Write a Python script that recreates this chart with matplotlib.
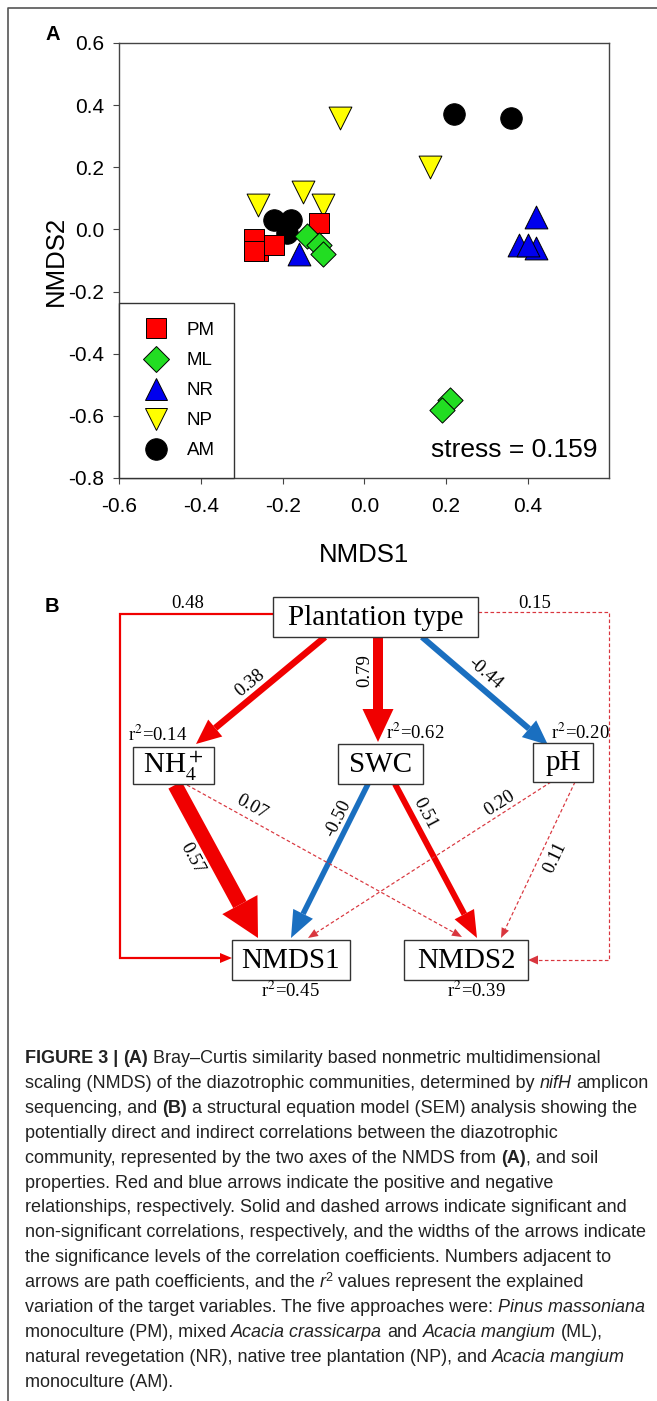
import matplotlib
matplotlib.use("Agg")
import matplotlib.pyplot as plt
import numpy as np
from matplotlib.lines import Line2D
from matplotlib.patches import Rectangle, Polygon

plt.rcParams['font.family'] = ['Liberation Sans', 'DejaVu Sans']
plt.rcParams['axes.unicode_minus'] = False
plt.rcParams['mathtext.fontset'] = 'stix'

# ---- (A) NMDS scores
groups = ['PM', 'ML', 'NR', 'NP', 'AM']
pm_x = [-0.27, -0.26, -0.22, -0.11, -0.27]
pm_y = [-0.03, -0.07, -0.05, 0.02, -0.07]
ml_x = [-0.14, -0.11, -0.10, 0.21, 0.19]
ml_y = [-0.02, -0.05, -0.08, -0.55, -0.58]
nr_x = [-0.16, 0.42, 0.38, 0.42, 0.40]
nr_y = [-0.08, 0.04, -0.05, -0.06, -0.05]
np_x = [-0.06, 0.16, -0.26, -0.15, -0.10]
np_y = [0.36, 0.20, 0.08, 0.12, 0.08]
am_x = [0.22, 0.36, -0.22, -0.18, -0.19]
am_y = [0.37, 0.36, 0.03, 0.03, -0.01]
stress = 0.159

# ---- (B) SEM paths
nodes = ['Plantation type', 'NH4', 'SWC', 'pH', 'NMDS1', 'NMDS2']
node_r2 = [None, 0.14, 0.62, 0.20, 0.45, 0.39]
path_from = ['Plantation type', 'Plantation type', 'Plantation type', 'NH4', 'SWC',
             'SWC', 'NH4', 'pH', 'pH', 'Plantation type', 'Plantation type']
path_to = ['NH4', 'SWC', 'pH', 'NMDS1', 'NMDS1', 'NMDS2', 'NMDS2', 'NMDS1', 'NMDS2',
           'NMDS1', 'NMDS2']
path_coef = [0.38, 0.79, -0.44, 0.57, -0.50, 0.51, 0.07, 0.20, 0.11, 0.48, 0.15]
path_sig = [True, True, True, True, True, True, False, False, False, True, False]

# ---- caption
caption = [
    [("FIGURE 3 | ", 'b'), ("(A)", 'b'), (" Bray\u2013Curtis similarity based nonmetric multidimensional", 'n')],
    [("scaling (NMDS) of the diazotrophic communities, determined by ", 'n'), ("nifH", 'i'), (" amplicon", 'n')],
    [("sequencing, and ", 'n'), ("(B)", 'b'), (" a structural equation model (SEM) analysis showing the", 'n')],
    [("potentially direct and indirect correlations between the diazotrophic", 'n')],
    [("community, represented by the two axes of the NMDS from ", 'n'), ("(A)", 'b'), (", and soil", 'n')],
    [("properties. Red and blue arrows indicate the positive and negative", 'n')],
    [("relationships, respectively. Solid and dashed arrows indicate significant and", 'n')],
    [("non-significant correlations, respectively, and the widths of the arrows indicate", 'n')],
    [("the significance levels of the correlation coefficients. Numbers adjacent to", 'n')],
    [("arrows are path coefficients, and the ", 'n'), ("r", 'i'), ("2", 'sup'), (" values represent the explained", 'n')],
    [("variation of the target variables. The five approaches were: ", 'n'), ("Pinus massoniana", 'i')],
    [("monoculture (PM), mixed ", 'n'), ("Acacia crassicarpa", 'i'), (" and ", 'n'), ("Acacia mangium", 'i'), (" (ML),", 'n')],
    [("natural revegetation (NR), native tree plantation (NP), and ", 'n'), ("Acacia mangium", 'i')],
    [("monoculture (AM).", 'n')],
]

# ---- styles / layout (pixels)
markers = ['s', 'D', '^', 'v', 'o']
colors = ['#ff0000', '#22dd22', '#0000ee', '#ffff00', '#000000']
msize = [200, 165, 270, 270, 240]
zord = [4, 5, 6, 2, 3]

box = {'Plantation type': (273, 597, 478, 637), 'NH4': (133, 747, 214, 784),
       'SWC': (338, 744, 423, 784), 'pH': (533, 743, 593, 782),
       'NMDS1': (232, 940, 350, 980), 'NMDS2': (404, 940, 528, 980)}
box_text = {'Plantation type': 'Plantation type', 'NH4': r'NH$_4^+$', 'SWC': 'SWC',
            'pH': 'pH', 'NMDS1': 'NMDS1', 'NMDS2': 'NMDS2'}
r2_pos = {'NH4': (158, 735), 'SWC': (415, 733), 'pH': (580, 733),
          'NMDS1': (290, 991), 'NMDS2': (476, 991)}
path_pts = [
    [(325, 637), (196, 744)],
    [(378, 637), (378, 742)],
    [(422, 637), (548, 745)],
    [(175, 785), (258, 938)],
    [(368, 784), (291, 938)],
    [(395, 784), (477, 938)],
    [(187, 785), (462, 937)],
    [(551, 782), (308, 938)],
    [(575, 782), (501, 938)],
    [(273, 614), (120, 614), (120, 958), (232, 958)],
    [(478, 612), (609, 612), (609, 960), (528, 960)],
]
path_lw = [6.5, 10, 6, 15, 5.5, 6, 1.2, 1.2, 1.2, 2.2, 1.2]
path_head = [(22, 25), (31, 33), (22, 25), (40, 38), (22, 27), (22, 27),
             (8, 10), (8, 10), (8, 10), (10, 12), (9, 10)]
label_xy = [(250, 683), (365, 671), (485, 673), (192, 858), (338, 818), (425, 813),
            (252, 807), (500, 803), (555, 858), (188, 603), (535, 603)]
RED, BLUE, DRED = '#f00000', '#1a6fc0', '#d9363e'

fig = plt.figure(figsize=(6.57, 14.01), dpi=100)

# panel A
ax = fig.add_axes([119.3 / 657, (1401 - 478) / 1401, 490 / 657, 435 / 1401])
xs = [pm_x, ml_x, nr_x, np_x, am_x]
ys = [pm_y, ml_y, nr_y, np_y, am_y]
for i, g in enumerate(groups):
    ax.scatter(xs[i], ys[i], marker=markers[i], s=msize[i], c=colors[i],
               edgecolors='black', linewidths=0.7, zorder=zord[i])
ax.set_xlim(-0.6, 0.6)
ax.set_ylim(-0.8, 0.6)
ax.set_xticks([-0.6, -0.4, -0.2, 0.0, 0.2, 0.4])
ax.set_yticks([-0.8, -0.6, -0.4, -0.2, 0.0, 0.2, 0.4, 0.6])
ax.xaxis.set_major_formatter(plt.FormatStrFormatter('%.1f'))
ax.yaxis.set_major_formatter(plt.FormatStrFormatter('%.1f'))
ax.tick_params(direction='out', length=4, width=0.8, labelsize=15, color='#444')
ax.tick_params(axis='x', pad=10)
ax.tick_params(axis='y', pad=7)
for sp in ax.spines.values():
    sp.set_color('#444')
    sp.set_linewidth(1.0)
ax.set_xlabel('NMDS1', fontsize=18.5)
ax.set_ylabel('NMDS2', fontsize=18.5)
ax.xaxis.label.set_va('center')
ax.yaxis.label.set_va('center')
ax.xaxis.set_label_coords(0.5, (478 - 555) / 435)
ax.yaxis.set_label_coords((56 - 119.3) / 490, 0.5)
ax.text(0.9755, 0.064, 'stress = %.3f' % stress, transform=ax.transAxes,
        ha='right', va='center', fontsize=19)

handles = [Line2D([], [], marker=markers[i], ls='none', markersize=np.sqrt(msize[i]),
                  mfc=colors[i], mec='black', mew=0.7) for i in range(5)]
leg = ax.legend(handles, groups, loc='lower left', bbox_to_anchor=(0, 0), borderaxespad=0,
                fancybox=False, edgecolor='#333', framealpha=1, fontsize=13.5,
                handlelength=1.9, handletextpad=0.7, labelspacing=0.69, borderpad=1.0)
leg.get_frame().set_linewidth(1.0)

# overlay in pixel coordinates
ov = fig.add_axes([0, 0, 1, 1])
ov.set_xlim(0, 657)
ov.set_ylim(1401, 0)
ov.axis('off')

ov.plot([8.4, 8.4, 657], [1401, 8, 8], color='#555', lw=1.2)
ov.text(53, 35, 'A', fontsize=14.5, weight='bold', ha='center', va='center')
ov.text(52, 606, 'B', fontsize=14.5, weight='bold', ha='center', va='center')

serif = ['Liberation Serif', 'DejaVu Serif']


def draw_path(pts, color, lw_px, hw, hl, dashed):
    pts = np.array(pts, float)
    end, prev = pts[-1], pts[-2]
    u = (end - prev) / np.hypot(*(end - prev))
    base = end - u * hl
    line = np.vstack([pts[:-1], base])
    ov.plot(line[:, 0], line[:, 1], color=color, lw=lw_px * 0.72,
            ls=(0, (3, 2)) if dashed else '-', solid_capstyle='butt',
            solid_joinstyle='miter', zorder=2)
    n = np.array([-u[1], u[0]])
    ov.add_patch(Polygon([end, base + n * hw / 2, base - n * hw / 2], closed=True,
                         facecolor=color, edgecolor='none', zorder=2))


def label_angle(pts):
    (x0, y0), (x1, y1) = pts[-2], pts[-1]
    if len(pts) > 2:
        return 0.0
    a = np.degrees(np.arctan2(-(y1 - y0), x1 - x0))
    if a > 90:
        a -= 180
    if a <= -90:
        a += 180
    return a


for i in range(len(path_coef)):
    if path_sig[i]:
        col = RED if path_coef[i] > 0 else BLUE
    else:
        col = DRED
    draw_path(path_pts[i], col, path_lw[i], path_head[i][0], path_head[i][1], not path_sig[i])
    lx, ly = label_xy[i]
    ov.text(lx, ly, '%.2f' % path_coef[i], fontsize=13.5, family=serif,
            rotation=label_angle(path_pts[i]), ha='center', va='center',
            rotation_mode='anchor')

for k, name in enumerate(nodes):
    x0, y0, x1, y1 = box[name]
    ov.add_patch(Rectangle((x0, y0), x1 - x0, y1 - y0, facecolor='white',
                           edgecolor='#333', lw=1.0, zorder=3))
    ov.text((x0 + x1) / 2, (y0 + y1) / 2 + 1, box_text[name], fontsize=21, family=serif,
            ha='center', va='center', zorder=4)
    if node_r2[k] is not None:
        rx, ry = r2_pos[name]
        ov.text(rx, ry, 'r$^{2}$=%.2f' % node_r2[k], fontsize=13.5, family=serif,
                ha='center', va='center', zorder=4)

# caption, drawn run by run
renderer = fig.canvas.get_renderer()
cap_size = 13
kinds = {'n': {}, 'b': {'weight': 'bold'}, 'i': {'style': 'italic'}, 'sup': {}}


def text_w(s, **kw):
    t = ov.text(0, 0, s, fontsize=cap_size, **kw)
    w = t.get_window_extent(renderer).width
    t.remove()
    return w


space_w = {k: text_w('a a', **kinds[k]) - text_w('aa', **kinds[k]) for k in kinds}

for li, runs in enumerate(caption):
    x = 25
    y = 1063 + li * 24.9
    for s, k in runs:
        lead = len(s) - len(s.lstrip(' '))
        trail = len(s) - len(s.rstrip(' '))
        x += lead * space_w[k]
        body = s.strip(' ')
        if k == 'sup':
            t = ov.text(x, y - 6, body, fontsize=cap_size * 0.7, va='baseline', color='#222')
        else:
            t = ov.text(x, y, body, fontsize=cap_size, va='baseline', color='#222', **kinds[k])
        x = t.get_window_extent(renderer).x1 + trail * space_w[k]

fig.savefig('out.png', dpi=100)
